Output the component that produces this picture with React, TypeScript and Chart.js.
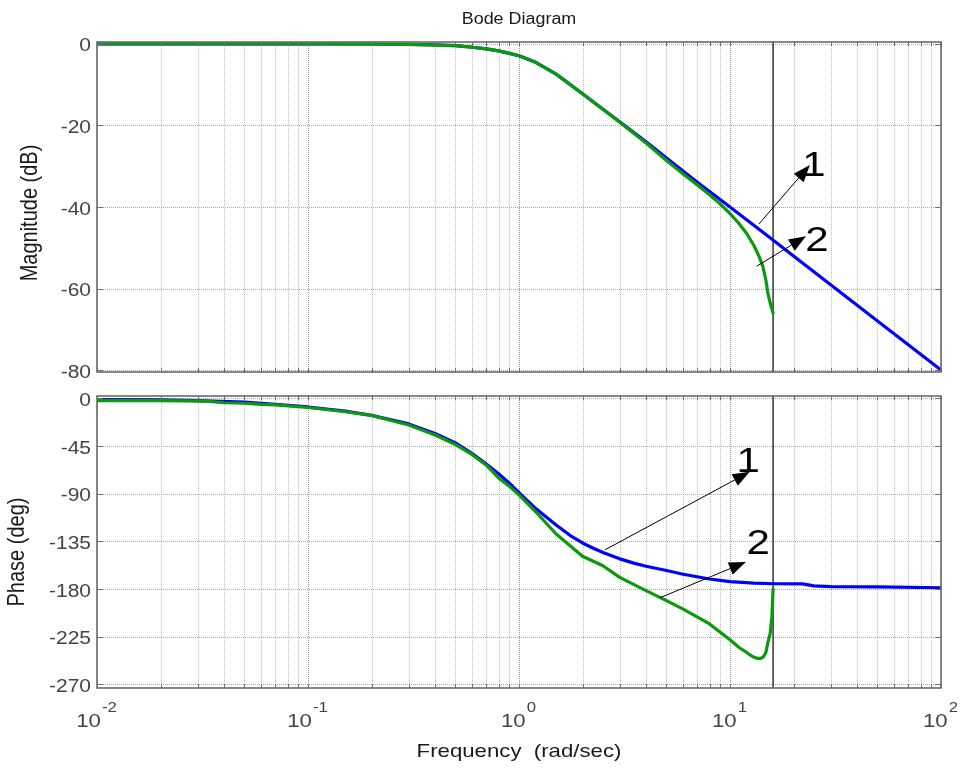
import React, { useEffect, useRef } from "react";
import { Chart, registerables } from "chart.js";

Chart.register(...registerables);

const W = 963;
const H = 772;

// ---------- data ----------
const magFreqBlue = [0.01, 0.1, 0.2, 0.3, 0.4, 0.5, 0.6, 0.7, 0.8, 0.9, 1.0, 1.2, 1.5, 2, 2.5, 3, 4, 5, 7, 10, 15, 20, 30, 50, 100];
const magBlue = [0, 0, 0, -0.1, -0.2, -0.4, -0.8, -1.2, -1.7, -2.3, -2.9, -4.5, -7.4, -12.2, -16.0, -19.1, -24.0, -28.0, -33.9, -40.0, -47.0, -52.0, -59.1, -68.0, -80.0];

const magFreqGreen = [0.01, 0.1, 0.3, 0.5, 0.6, 0.7, 0.8, 0.9, 1.0, 1.2, 1.5, 2, 2.5, 3, 4, 5, 6, 7, 8, 9, 10, 11, 12, 13, 13.7, 14.3, 14.8, 15.1, 15.5, 16];
const magGreen = [0, 0, -0.1, -0.4, -0.8, -1.2, -1.7, -2.3, -2.9, -4.5, -7.4, -12.2, -16.0, -19.2, -24.3, -28.6, -31.9, -34.6, -37.0, -39.3, -41.6, -44.0, -46.5, -49.5, -52.0, -54.5, -58.0, -61.0, -63.5, -66.0];

const phaseFreqBlue = [0.01, 0.02, 0.03, 0.05, 0.07, 0.1, 0.15, 0.2, 0.3, 0.4, 0.5, 0.6, 0.7, 0.8, 0.9, 1, 1.2, 1.5, 1.75, 2, 2.25, 2.5, 3, 3.5, 4, 5, 6, 8, 10, 13, 16, 22, 25, 30, 50, 100];
const phaseBlue = [-1, -1.2, -2, -3.5, -5.5, -8, -12, -16, -24, -33, -42, -52, -62, -71, -80, -89, -104, -119.5, -129.5, -136.5, -141.5, -145.5, -151.5, -155.5, -158.5, -162.5, -166, -170.5, -173, -174.5, -175, -175.2, -177, -177.8, -178, -178.8];

const phaseFreqGreen = [0.01, 0.02, 0.033, 0.04, 0.05, 0.06, 0.07, 0.1, 0.15, 0.2, 0.3, 0.4, 0.5, 0.6, 0.7, 0.8, 0.9, 1, 1.2, 1.5, 2, 2.5, 3, 4, 5, 6, 8, 10, 11, 12, 12.5, 13, 13.5, 14, 14.4, 14.8, 15.1, 15.5, 15.8, 16];
const phaseGreen = [-2, -2, -2.5, -4, -4.5, -5.5, -6, -8.5, -12.5, -16, -25, -34.5, -43.5, -53, -63, -75, -83, -91, -107, -128, -149, -158, -169, -181.5, -191, -199, -213, -228, -235, -240, -242.5, -244.5, -245.5, -245.5, -244, -240, -231, -222, -206, -180];

const markerFreq = 16;

const magTicks = [0, -20, -40, -60, -80];
const phaseTicks = [0, -45, -90, -135, -180, -225, -270];
const xDecadeExps = [-2, -1, 0, 1, 2];

// annotation arrows (data coordinates)
const magArrowFrom = [[13.7, -44.2], [13.4, -54.5]];
const magArrowTo = [[23.9, -29.7], [22.9, -47.2]];
const magArrowLabels = ["1", "2"];
const magLabelAt = [[25.0, -29.2], [25.8, -47.6]];

const phaseArrowFrom = [[2.56, -142.9], [4.66, -188.2]];
const phaseArrowTo = [[12.4, -69.3], [11.9, -154.5]];
const phaseArrowLabels = ["1", "2"];
const phaseLabelAt = [[12.2, -58], [13.6, -135.4]];

// ---------- layout ----------
const PLOT_LEFT = 97;
const PLOT_RIGHT = 941;
const MAG_TOP = 42;
const MAG_BOTTOM = 372;
const PH_TOP = 396;
const PH_BOTTOM = 688;
const MAG_MIN = -80.49;
const MAG_MAX = 0.49;
const PH_MIN = -273.5;
const PH_MAX = 2.36;

const FONT = '"Liberation Sans", Arial, Helvetica, sans-serif';
const SX = 1.2;

function drawText(
  ctx: CanvasRenderingContext2D,
  s: string,
  x: number,
  y: number,
  size: number,
  align: "left" | "center" | "right",
  color: string,
  sx: number = SX
) {
  ctx.save();
  ctx.font = `${size}px ${FONT}`;
  ctx.fillStyle = color;
  ctx.textBaseline = "alphabetic";
  ctx.textAlign = "left";
  const w = ctx.measureText(s).width * sx;
  const x0 = align === "center" ? x - w / 2 : align === "right" ? x - w : x;
  ctx.translate(x0, y);
  ctx.scale(sx, 1);
  ctx.fillText(s, 0, 0);
  ctx.restore();
  return w;
}

function drawRotated(ctx: CanvasRenderingContext2D, s: string, cx: number, cy: number, size: number, color: string) {
  ctx.save();
  ctx.font = `${size}px ${FONT}`;
  ctx.fillStyle = color;
  ctx.textAlign = "center";
  ctx.textBaseline = "middle";
  ctx.translate(cx, cy);
  ctx.scale(SX, 1);
  ctx.rotate(-Math.PI / 2);
  ctx.fillText(s, 0, 0);
  ctx.restore();
}

function gridValues(): number[] {
  const vals: number[] = [];
  for (let e = -2; e <= 1; e++) {
    for (let m = 1; m <= 9; m++) vals.push(m * Math.pow(10, e));
  }
  vals.push(100);
  return vals;
}

function drawArrow(ctx: CanvasRenderingContext2D, x1: number, y1: number, x2: number, y2: number) {
  const ang = Math.atan2(y2 - y1, x2 - x1);
  const headLen = 17;
  const headHalf = 6.5;
  const bx = x2 - headLen * Math.cos(ang);
  const by = y2 - headLen * Math.sin(ang);
  ctx.save();
  ctx.strokeStyle = "#000";
  ctx.fillStyle = "#000";
  ctx.lineWidth = 1;
  ctx.beginPath();
  ctx.moveTo(x1, y1);
  ctx.lineTo(bx, by);
  ctx.stroke();
  ctx.beginPath();
  ctx.moveTo(x2, y2);
  ctx.lineTo(bx + headHalf * Math.sin(ang), by - headHalf * Math.cos(ang));
  ctx.lineTo(bx - headHalf * Math.sin(ang), by + headHalf * Math.cos(ang));
  ctx.closePath();
  ctx.fill();
  ctx.restore();
}

function bodePlugin(kind: "mag" | "phase") {
  const isMag = kind === "mag";
  const yTicks = isMag ? magTicks : phaseTicks;
  return {
    id: "bode-" + kind,
    beforeDatasetsDraw(chart: any) {
      const ctx: CanvasRenderingContext2D = chart.ctx;
      const { left, right, top, bottom } = chart.chartArea;
      const xs = chart.scales.x;
      const ys = chart.scales.y;
      ctx.save();
      ctx.lineWidth = 1;
      ctx.setLineDash([1, 1]);
      for (const v of gridValues()) {
        const px = Math.round(xs.getPixelForValue(v)) + 0.5;
        const isDecade = Math.abs(Math.log10(v) - Math.round(Math.log10(v))) < 1e-9;
        ctx.strokeStyle = isDecade ? "#999999" : "#bdbdbd";
        ctx.beginPath();
        ctx.moveTo(px, top);
        ctx.lineTo(px, bottom);
        ctx.stroke();
      }
      ctx.strokeStyle = "#a8a8a8";
      for (const v of yTicks) {
        const py = Math.round(ys.getPixelForValue(v)) + 0.5;
        ctx.beginPath();
        ctx.moveTo(left, py);
        ctx.lineTo(right, py);
        ctx.stroke();
      }
      ctx.restore();
    },
    afterDatasetsDraw(chart: any) {
      const ctx: CanvasRenderingContext2D = chart.ctx;
      const { left, right, top, bottom } = chart.chartArea;
      const xs = chart.scales.x;
      const ys = chart.scales.y;

      // inner tick marks
      ctx.save();
      ctx.strokeStyle = "#707070";
      ctx.lineWidth = 1;
      for (const v of gridValues()) {
        const px = Math.round(xs.getPixelForValue(v)) + 0.5;
        ctx.beginPath();
        ctx.moveTo(px, top);
        ctx.lineTo(px, top + 4);
        ctx.moveTo(px, bottom);
        ctx.lineTo(px, bottom - 4);
        ctx.stroke();
      }
      for (const v of yTicks) {
        const py = Math.round(ys.getPixelForValue(v)) + 0.5;
        ctx.beginPath();
        ctx.moveTo(left, py);
        ctx.lineTo(left + 6, py);
        ctx.moveTo(right, py);
        ctx.lineTo(right - 6, py);
        ctx.stroke();
      }
      // box
      ctx.strokeStyle = "#6a6a6a";
      ctx.lineWidth = 1.6;
      ctx.strokeRect(left, top, right - left, bottom - top);
      ctx.restore();

      // y tick labels
      for (const v of yTicks) {
        const py = ys.getPixelForValue(v);
        drawText(ctx, String(v), left - 6, py + 7.5, 17.5, "right", "#444444");
      }

      // arrows + labels
      const from = isMag ? magArrowFrom : phaseArrowFrom;
      const to = isMag ? magArrowTo : phaseArrowTo;
      const labels = isMag ? magArrowLabels : phaseArrowLabels;
      const at = isMag ? magLabelAt : phaseLabelAt;
      for (let i = 0; i < from.length; i++) {
        drawArrow(
          ctx,
          xs.getPixelForValue(from[i][0]),
          ys.getPixelForValue(from[i][1]),
          xs.getPixelForValue(to[i][0]),
          ys.getPixelForValue(to[i][1])
        );
        const size = 35;
        drawText(
          ctx,
          labels[i],
          xs.getPixelForValue(at[i][0]),
          ys.getPixelForValue(at[i][1]) + 0.358 * size,
          size,
          "center",
          "#000000"
        );
      }

      if (isMag) {
        drawText(ctx, "Bode Diagram", (left + right) / 2, 24, 16, "center", "#1a1a1a", 1.12);
        drawRotated(ctx, "Magnitude (dB)", 30, 213, 20, "#1a1a1a");
      } else {
        drawRotated(ctx, "Phase (deg)", 17.5, 552, 20, "#1a1a1a");
        // x tick labels with superscript exponents
        for (const e of xDecadeExps) {
          const px = xs.getPixelForValue(Math.pow(10, e));
          ctx.save();
          ctx.font = `18.5px ${FONT}`;
          const wBase = ctx.measureText("10").width * SX;
          ctx.font = `14px ${FONT}`;
          const wExp = ctx.measureText(String(e)).width * SX;
          ctx.restore();
          const x0 = px - (wBase + wExp) / 2 - 1;
          drawText(ctx, "10", x0, 727, 18.5, "left", "#444444");
          drawText(ctx, String(e), x0 + wBase + 1, 712, 14, "left", "#444444");
        }
        drawText(ctx, "Frequency  (rad/sec)", (left + right) / 2, 757, 18.5, "center", "#1a1a1a");
      }
    },
  };
}

function pts(xs: number[], ys: number[]) {
  return xs.map((x, i) => ({ x, y: ys[i] }));
}

function makeConfig(kind: "mag" | "phase"): any {
  const isMag = kind === "mag";
  const top = isMag ? MAG_TOP : PH_TOP;
  const bottom = isMag ? MAG_BOTTOM : PH_BOTTOM;
  const yMin = isMag ? MAG_MIN : PH_MIN;
  const yMax = isMag ? MAG_MAX : PH_MAX;
  const blue = isMag ? pts(magFreqBlue, magBlue) : pts(phaseFreqBlue, phaseBlue);
  const green = isMag ? pts(magFreqGreen, magGreen) : pts(phaseFreqGreen, phaseGreen);
  return {
    type: "line",
    data: {
      datasets: [
        {
          label: "marker",
          data: [
            { x: markerFreq, y: yMin },
            { x: markerFreq, y: yMax },
          ],
          borderColor: "#000000",
          borderWidth: 1.2,
          pointRadius: 0,
          order: 3,
        },
        {
          label: "1",
          data: blue,
          borderColor: "#0000ff",
          borderWidth: 3.2,
          pointRadius: 0,
          borderJoinStyle: "round",
          borderCapStyle: "round",
          order: 2,
        },
        {
          label: "2",
          data: green,
          borderColor: "#0b9a0b",
          borderWidth: 3.2,
          pointRadius: 0,
          borderJoinStyle: "round",
          borderCapStyle: "round",
          order: 1,
        },
      ],
    },
    options: {
      responsive: false,
      animation: false,
      events: [],
      devicePixelRatio: 1,
      layout: { padding: { left: 0, top: top, right: W - PLOT_RIGHT, bottom: H - bottom } },
      plugins: { legend: { display: false }, tooltip: { enabled: false }, title: { display: false } },
      scales: {
        x: {
          type: "logarithmic",
          min: 0.01,
          max: 100,
          grid: { display: false },
          border: { display: false },
          ticks: { display: false },
          afterFit: (s: any) => {
            s.height = 0;
          },
        },
        y: {
          type: "linear",
          min: yMin,
          max: yMax,
          grid: { display: false },
          border: { display: false },
          ticks: { display: false },
          afterFit: (s: any) => {
            s.width = PLOT_LEFT;
          },
        },
      },
    },
    plugins: [bodePlugin(kind)],
  };
}

export default function App() {
  const magRef = useRef<HTMLCanvasElement | null>(null);
  const phRef = useRef<HTMLCanvasElement | null>(null);

  useEffect(() => {
    const c1 = new Chart(magRef.current as HTMLCanvasElement, makeConfig("mag"));
    const c2 = new Chart(phRef.current as HTMLCanvasElement, makeConfig("phase"));
    return () => {
      c1.destroy();
      c2.destroy();
    };
  }, []);

  const canvasStyle: React.CSSProperties = { position: "absolute", left: 0, top: 0, width: W, height: H, display: "block" };
  return (
    <div style={{ position: "absolute", left: 0, top: 0, width: W, height: H, background: "#ffffff", overflow: "hidden" }}>
      <canvas ref={magRef} width={W} height={H} style={canvasStyle} />
      <canvas ref={phRef} width={W} height={H} style={canvasStyle} />
    </div>
  );
}
